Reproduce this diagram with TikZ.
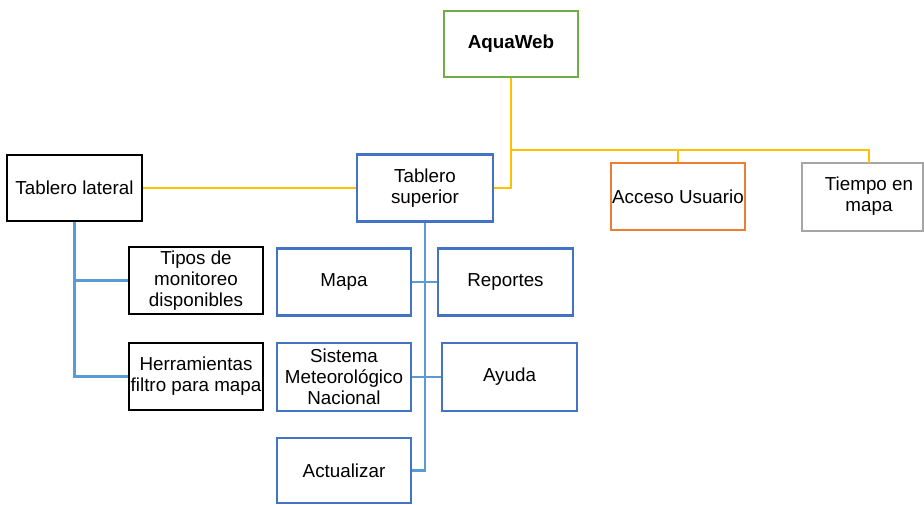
\documentclass[tikz,border=0pt]{standalone}
\usepackage{fontspec}
\setmainfont{Liberation Sans}
\definecolor{cgreen}{HTML}{70AD47}
\definecolor{cblue}{HTML}{4472C4}
\definecolor{clblue}{HTML}{5B9BD5}
\definecolor{corange}{HTML}{ED7D31}
\definecolor{cgray}{HTML}{A5A5A5}
\definecolor{cyellow}{HTML}{FFC000}
\begin{document}
\begin{tikzpicture}[x=1pt,y=-1pt,
  box/.style={draw, rectangle, inner sep=0pt, align=center, fill=white,
    font=\fontsize{18.8}{20.8}\selectfont, minimum width=134pt, minimum height=67pt},
  bluebox/.style={box, draw=cblue, line width=2.2pt},
  blackbox/.style={box, draw=black, line width=2.7pt},
  yl/.style={draw=cyellow, line width=2.2pt},
  bl/.style={draw=clblue, line width=2.2pt}]
\useasboundingbox (0,0) rectangle (924,504);
% nodes
\node[box, draw=cgreen, line width=2.2pt, minimum height=66pt, font=\fontsize{18.8}{20.8}\selectfont\bfseries] (aqua) at (511,44) {AquaWeb};
\node[blackbox, minimum width=135pt, minimum height=66pt] (lateral) at (74.5,188) {Tablero lateral};
\node[bluebox, minimum width=136pt] (superior) at (425,188) {Tablero\\superior};
\node[box, draw=corange, line width=2.2pt] (acceso) at (678,196.5) {Acceso Usuario};
\node[box, draw=cgray, line width=2.2pt, minimum width=121pt, minimum height=68pt] (tiempo) at (862.5,197) {};
\node[font=\fontsize{18.8}{20.8}\selectfont, align=center, inner sep=0pt] (tiempotxt) at (869,196) {Tiempo en\\mapa};
\node[blackbox] (tipos) at (196,280.5) {Tipos de\\monitoreo\\disponibles};
\node[blackbox] (herr) at (196,376.5) {Herramientas\\filtro para mapa};
\node[bluebox] (mapa) at (344,282) {Mapa};
\node[bluebox, minimum width=135pt] (reportes) at (505.5,282) {Reportes};
\node[bluebox, minimum height=68pt] (sistema) at (344,377) {Sistema\\Meteorológico\\Nacional};
\node[bluebox, minimum width=135pt, minimum height=68pt] (ayuda) at (509.5,377) {Ayuda};
\node[bluebox, minimum height=65pt] (actualizar) at (344,470.5) {Actualizar};
% yellow connectors
\coordinate (j1) at (511,150);
\coordinate (tiempotop) at (869,163);
\draw[yl] (aqua.south) -- (j1) -| (tiempotop);
\draw[yl] (j1) -| (acceso.north);
\draw[yl] (j1) |- (superior.east);
\draw[yl] (lateral.east) -- (superior.west);
% blue connectors
\draw[bl] (lateral.south) |- (tipos.west);
\draw[bl] (lateral.south) |- (herr.west);
\draw[bl] (superior.south) |- (actualizar.east);
\draw[bl] (mapa.east) -- (reportes.west);
\draw[bl] (sistema.east) -- (ayuda.west);
\end{tikzpicture}
\end{document}
